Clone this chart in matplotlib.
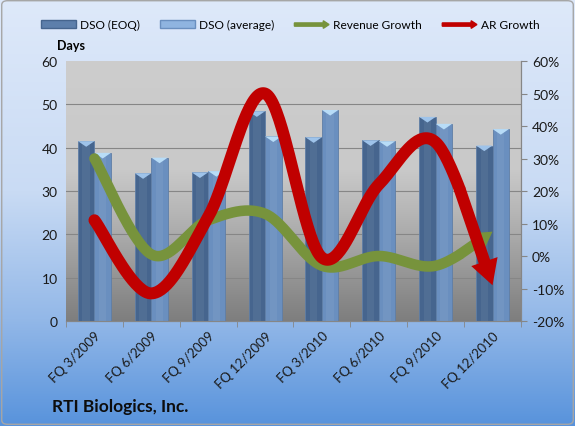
import matplotlib
matplotlib.use('Agg')
import matplotlib.pyplot as plt
from matplotlib.patches import Rectangle, FancyBboxPatch, FancyArrow
from matplotlib.legend_handler import HandlerPatch
from matplotlib.colors import LinearSegmentedColormap
import numpy as np

plt.rcParams['font.family'] = ['Lato', 'DejaVu Sans']

# ---------------- data ----------------
quarters = ['FQ 3/2009', 'FQ 6/2009', 'FQ 9/2009', 'FQ 12/2009',
            'FQ 3/2010', 'FQ 6/2010', 'FQ 9/2010', 'FQ 12/2010']
dso_eoq = [41.5, 34.1, 34.3, 48.4, 42.4, 41.7, 47.1, 40.5]
dso_avg = [38.8, 37.7, 34.6, 42.6, 48.7, 41.5, 45.5, 44.3]
revenue_growth = [30, 0.5, 11, 13, -3, 0, -3, 7.5]     # %
ar_growth = [11, -11.5, 12, 50, -0.5, 22, 35, -9]      # %


def smooth(xs, ys, n=40):
    # catmull-rom curve, like excel's "smoothed line"
    pts = np.column_stack([xs, ys]).astype(float)
    P = np.vstack([pts[0], pts, pts[-1]])
    out = []
    for i in range(len(pts) - 1):
        p0, p1, p2, p3 = P[i], P[i+1], P[i+2], P[i+3]
        t = np.linspace(0, 1, n, endpoint=False)[:, None]
        seg = 0.5 * (2*p1 + (-p0 + p2)*t + (2*p0 - 5*p1 + 4*p2 - p3)*t**2
                     + (-p0 + 3*p1 - 3*p2 + p3)*t**3)
        out.append(seg)
    out.append(pts[-1:])
    return np.vstack(out)


fig = plt.figure(figsize=(5.75, 4.27), dpi=100)

# figure background gradient
bg = fig.add_axes([0, 0, 1, 1], zorder=-10)
bg_cmap = LinearSegmentedColormap.from_list(
    'bg', [(0, '#dee9fa'), (0.45, '#c9dbf4'), (0.75, '#93b8e8'), (1, '#5893dc')])
bg.imshow(np.linspace(0, 1, 256)[:, None], aspect='auto', cmap=bg_cmap,
          extent=[0, 1, 0, 1])
bg.add_patch(FancyBboxPatch((0.003, 0.004), 0.994, 0.992,
                            boxstyle='round,pad=0,rounding_size=0.01',
                            fc='none', ec='#a6a6a6', lw=1))
bg.set_xlim(0, 1)
bg.set_ylim(0, 1)
bg.axis('off')

ax = fig.add_axes([0.1148, 0.2459, 0.7912, 0.6089])
ax2 = ax.twinx()

# plot area gradient
pa_cmap = LinearSegmentedColormap.from_list(
    'pa', [(0, '#cdcdcd'), (0.42, '#c9c9c9'), (0.6, '#b4b4b4'), (1, '#7e7e7e')])
ax.imshow(np.linspace(0, 1, 256)[:, None], aspect='auto', cmap=pa_cmap,
          extent=[0, 1, 0, 1], transform=ax.transAxes, zorder=0)

x = np.arange(len(quarters))
w = 0.29
for vals, off, col, cap in [(dso_eoq, -0.145, '#46658e', '#9ec3ea'),
                            (dso_avg, 0.145, '#6a8fbf', '#b8dcf7')]:
    ax.bar(x + off, vals, width=w, color=col, edgecolor='#5f7ea6', lw=0.6, zorder=3)
    # lighter middle for a cylinder look
    ax.bar(x + off, vals, width=w*0.45, color='white', alpha=0.06, lw=0, zorder=3)
    for xi, v in zip(x + off, vals):
        ax.add_patch(plt.Polygon([[xi - w/2, v], [xi + w/2, v], [xi, v - 1.3]],
                                 closed=True, fc=cap, ec='none', zorder=4))

for gy in range(10, 60, 10):
    ax.axhline(gy, color='#868686', lw=0.8, zorder=1)

ax.set_xlim(-0.5, 7.5)
ax.set_ylim(0, 60)
ax.set_yticks(np.arange(0, 61, 10))
ax.set_xticks(np.arange(-0.5, 8, 1), minor=True)
ax.set_xticks(x)
ax.set_xticklabels(quarters, rotation=45, ha='right', va='top',
                   rotation_mode='anchor', fontsize=9.5, color='#1a1a1a')
ax.tick_params(axis='x', which='major', length=0, pad=6)
ax.tick_params(axis='x', which='minor', length=4, color='#868686')
ax.tick_params(axis='y', length=0, labelsize=10, pad=6, colors='#1a1a1a')

# lines on the right axis
for vals, col, lw, tw, hw, hl, z in [(revenue_growth, '#77933c', 7.6, 7.6, 14, 12, 5),
                                     (ar_growth, '#c00000', 8.6, 8.6, 20, 18, 6)]:
    curve = smooth(x, vals)
    k = 26
    ax2.plot(curve[:-k+1, 0], curve[:-k+1, 1], color=col, lw=lw,
             solid_capstyle='round', solid_joinstyle='round', zorder=z)
    ax2.annotate('', xy=curve[-1], xytext=curve[-k],
                 arrowprops=dict(arrowstyle='simple,head_length=%g,head_width=%g,tail_width=%g'
                                 % (hl, hw, tw),
                                 mutation_scale=1, fc=col, ec='none',
                                 shrinkA=0, shrinkB=0), zorder=z)

ax2.set_ylim(-20, 60)
ax2.set_yticks(np.arange(-20, 61, 10))
ax2.set_yticklabels(['%d%%' % v for v in range(-20, 61, 10)])
ax2.tick_params(axis='y', length=4, color='#868686', labelsize=10, pad=4,
                labelcolor='#1a1a1a')

for a in (ax, ax2):
    a.spines[['top', 'left']].set_visible(False)
    a.spines['bottom'].set_color('#868686')
    a.spines['right'].set_color('#868686')

fig.text(0.0992, 0.878, 'Days', fontsize=9, fontweight='bold', ha='left', va='bottom')
fig.text(0.09, 0.028, 'RTI Biologics, Inc.', fontsize=12.5, fontweight='bold',
         ha='left', va='bottom', color='#0d0d0d')


# legend
def make_arrow(legend, orig_handle, xdescent, ydescent, width, height, fontsize):
    return FancyArrow(0, height/2, width, 0, width=height*0.45, length_includes_head=True,
                      head_width=height*1.05, head_length=height*0.8,
                      color=orig_handle.get_facecolor())


h_eoq = Rectangle((0, 0), 1, 1, fc='#5d7fab', ec='#46658e')
h_avg = Rectangle((0, 0), 1, 1, fc='#8fb4e0', ec='#6a8fbf')
h_rev = FancyArrow(0, 0, 1, 0, color='#77933c')
h_ar = FancyArrow(0, 0, 1, 0, color='#c00000')
fig.legend([h_eoq, h_avg, h_rev, h_ar],
           ['DSO (EOQ)', 'DSO (average)', 'Revenue Growth', 'AR Growth'],
           loc='center', bbox_to_anchor=(0.505, 0.94), ncol=4, frameon=False,
           fontsize=8.6, handlelength=2.9, handleheight=0.55, handletextpad=0.35,
           columnspacing=1.7,
           handler_map={FancyArrow: HandlerPatch(patch_func=make_arrow)})

fig.savefig('out.png', dpi=100)
